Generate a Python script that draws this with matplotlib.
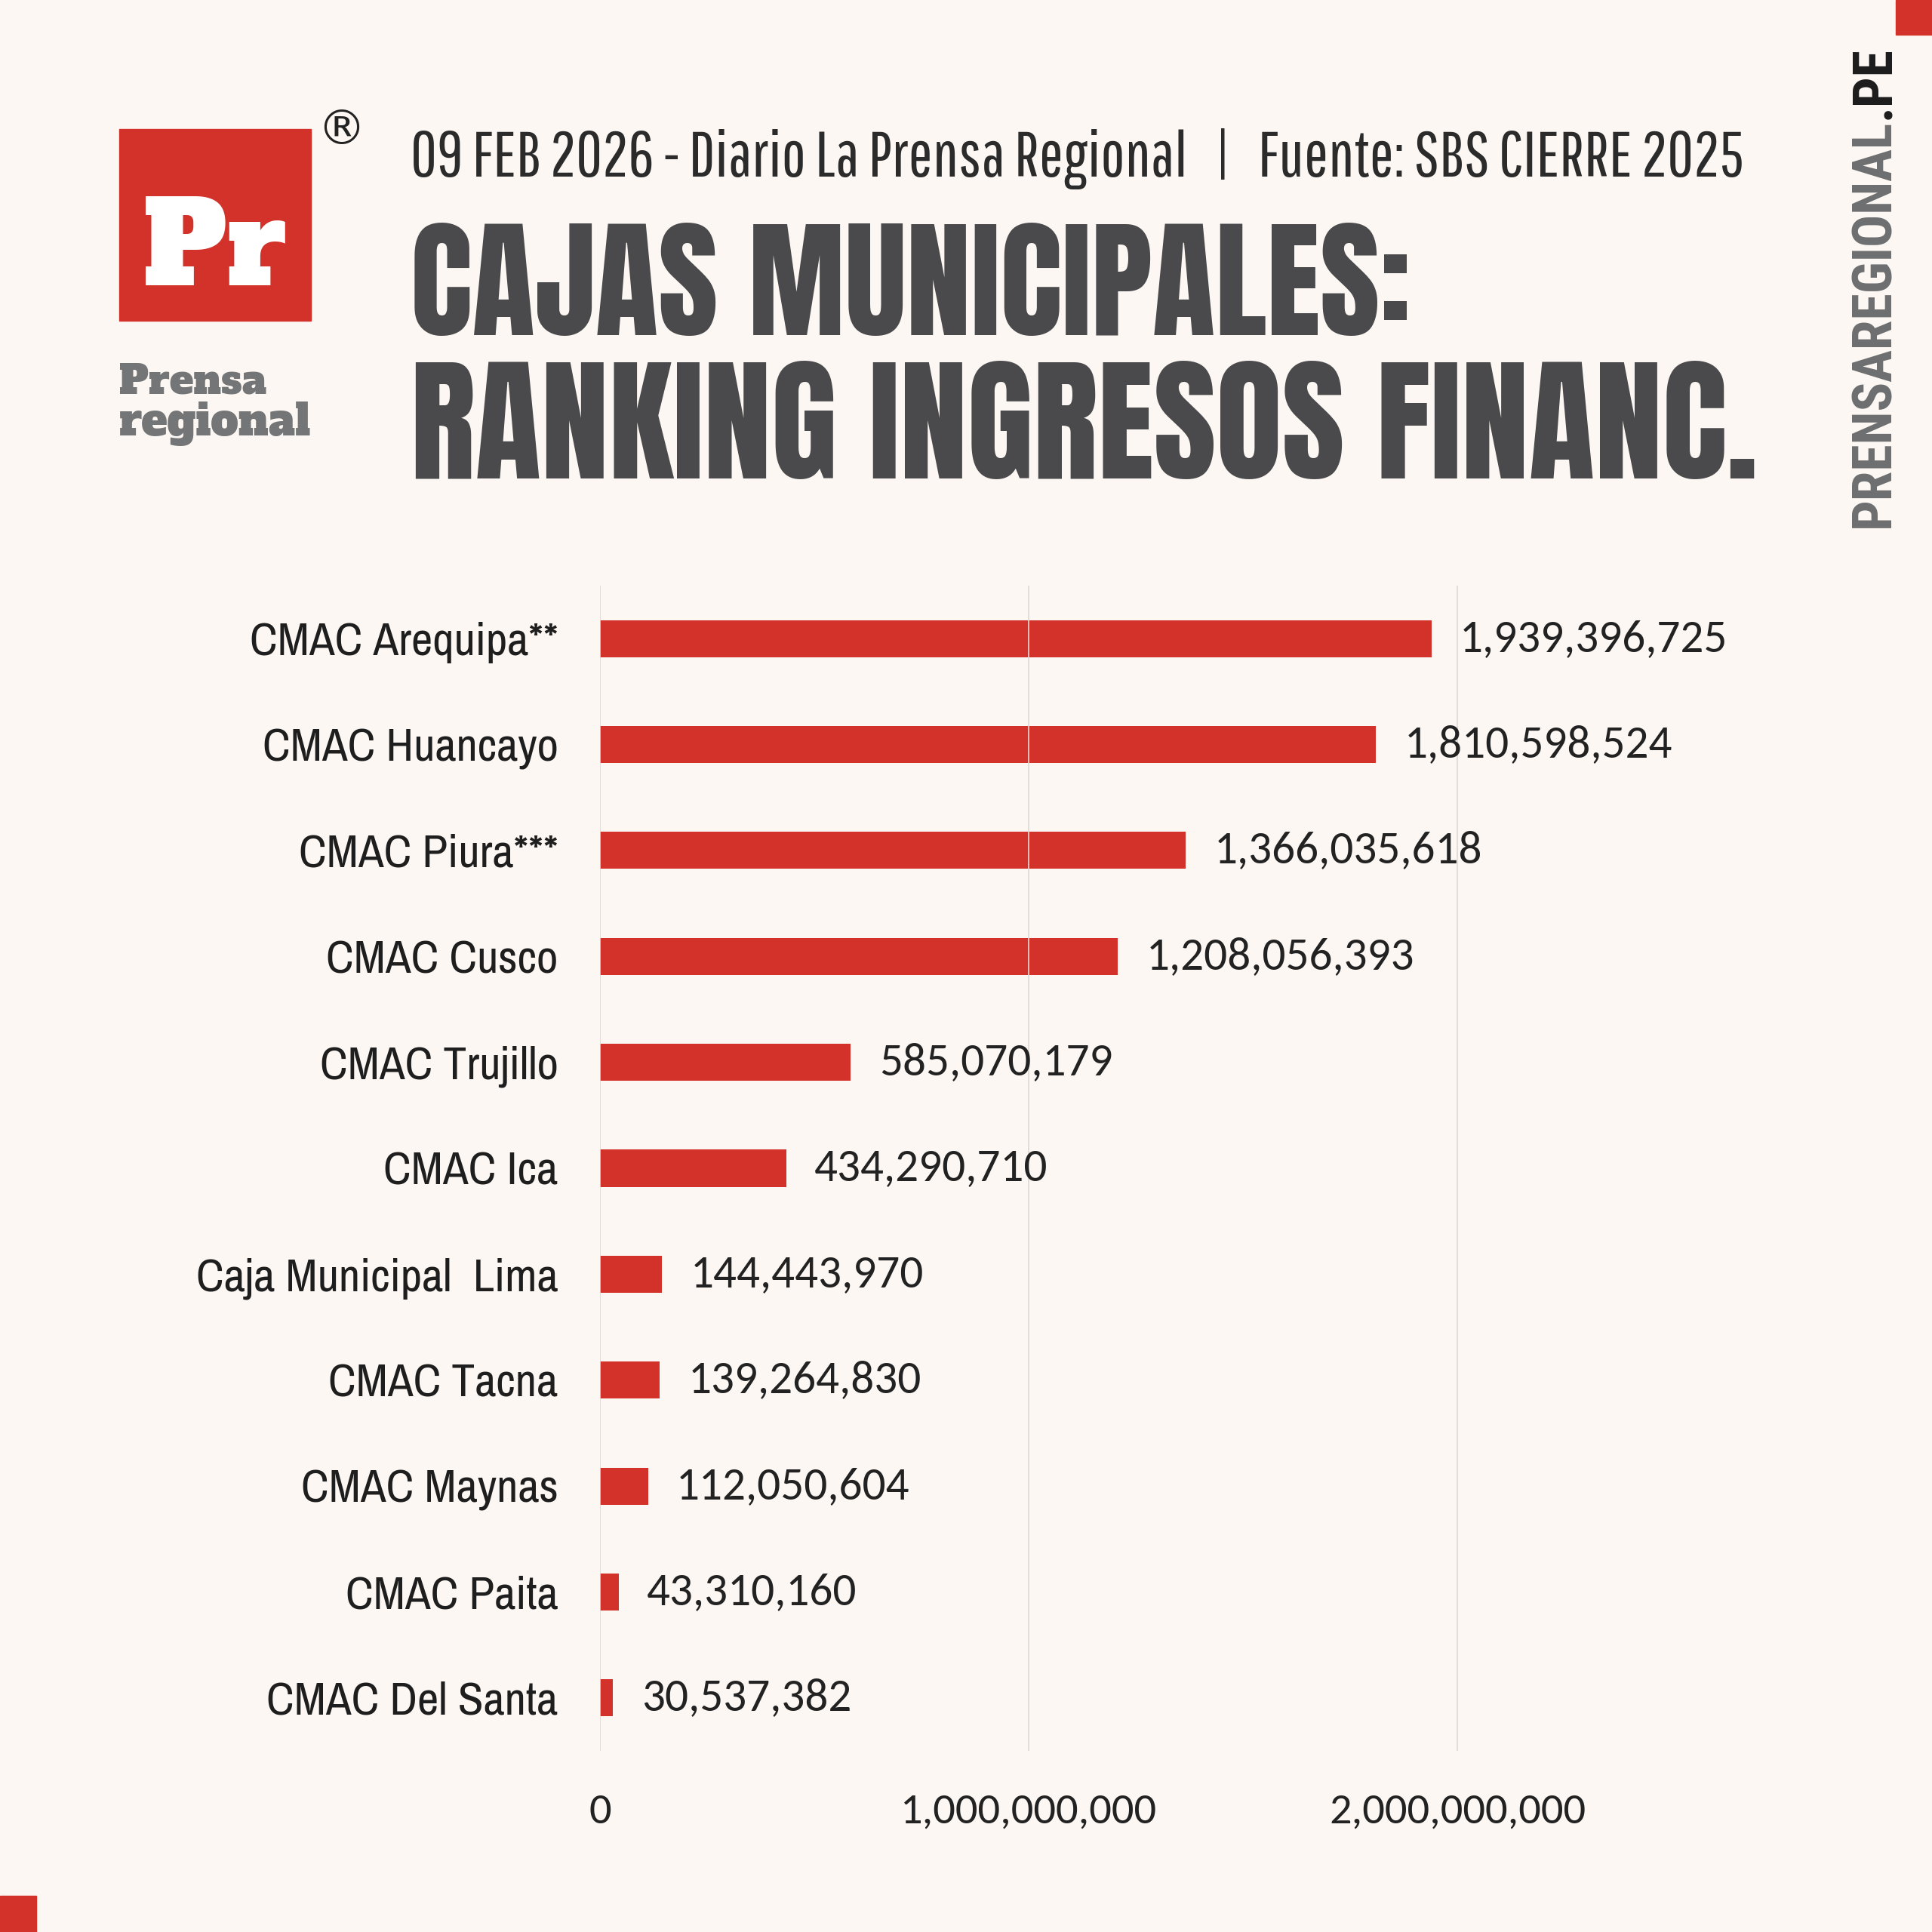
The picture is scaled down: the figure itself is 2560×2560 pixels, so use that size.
import matplotlib
matplotlib.use("Agg")
import matplotlib.pyplot as plt

# data (ingresos financieros, soles)
cajas = ["CMAC Arequipa**", "CMAC Huancayo", "CMAC Piura***", "CMAC Cusco", "CMAC Trujillo",
         "CMAC Ica", "Caja Municipal  Lima", "CMAC Tacna", "CMAC Maynas", "CMAC Paita",
         "CMAC Del Santa"]
ingresos = [1939396725, 1810598524, 1366035618, 1208056393, 585070179, 434290710,
            144443970, 139264830, 112050604, 43310160, 30537382]
xticks = [0, 1000000000, 2000000000]

header = "09 FEB 2026 - Diario La Prensa Regional   |   Fuente: SBS CIERRE 2025"
title1 = "CAJAS MUNICIPALES:"
title2 = "RANKING INGRESOS FINANC."

BG = "#fcf7f3"
RED = "#d3322a"
GREY = "#4a4a4c"
W = 2560

fig = plt.figure(figsize=(25.6, 25.6), dpi=100, facecolor=BG)
r = fig.canvas.get_renderer()


def fx(px):
    return px / W


def fy(px):
    return 1 - px / W


def fit(t, width_px):
    # scale font so the text spans the given width in pixels
    bb = t.get_window_extent(r)
    t.set_fontsize(t.get_fontsize() * width_px / bb.width)
    return t


# corner marks
fig.patches.append(plt.Rectangle((fx(2512), fy(46)), fx(48), 46 / W, transform=fig.transFigure,
                                 color=RED, zorder=1))
fig.patches.append(plt.Rectangle((0, 0), fx(48), 48 / W, transform=fig.transFigure,
                                 color=RED, zorder=1))

# logo
fig.patches.append(plt.Rectangle((fx(158), fy(425)), fx(254), 254 / W, transform=fig.transFigure,
                                 color=RED, zorder=1))
t = fig.text(fx(285), fy(378), "Pr", color="white", family="Alfa Slab One", fontsize=120,
             ha="center", va="baseline")
fit(t, 190)
t = fig.text(fx(158), fy(522), "Prensa", color="#747576", family="Alfa Slab One", fontsize=40,
             ha="left", va="baseline")
fit(t, 195)
t = fig.text(fx(158), fy(577), "regional", color="#747576", family="Alfa Slab One", fontsize=40,
             ha="left", va="baseline")
fit(t, 254)
fig.text(fx(452), fy(173), "®", color="#222222", family="DejaVu Sans", fontsize=46,
         ha="center", va="center")

# header and title
t = fig.text(fx(544), fy(234), header, color="#2b2b2b", family="Pathway Gothic One",
             fontsize=60, ha="left", va="baseline")
fit(t, 1768)
t = fig.text(fx(544), fy(444), title1, color=GREY, family="Anton", fontsize=100,
             ha="left", va="baseline")
fit(t, 1326)
t = fig.text(fx(544), fy(634), title2, color=GREY, family="Anton", fontsize=100,
             ha="left", va="baseline")
fit(t, 1783)

# vertical site name
v1 = fig.text(fx(2484), fy(699), "PRENSAREGIONAL", color="#6d6e70", family="Roboto Condensed",
              fontweight="bold", fontsize=40, rotation=90, ha="center", va="bottom")
v2 = fig.text(fx(2484), fy(400), ".PE", color="#1c1c1c", family="Roboto Condensed",
              fontweight="bold", fontsize=40, rotation=90, ha="center", va="bottom")
h = v1.get_window_extent(r).height + v2.get_window_extent(r).height
k = 637 / h
v1.set_fontsize(40 * k)
v2.set_fontsize(40 * k)
top1 = v1.get_window_extent(r).y1
v2.set_y(top1 / W)

# chart
ax = fig.add_axes([fx(795), fy(2320), fx(2215 - 795), (2320 - 776) / W])
ax.set_facecolor("none")
pos = list(range(len(cajas)))
ax.barh(pos, ingresos, height=0.35, color=RED, zorder=2)
ax.set_xlim(0, 2500000000)
ax.set_ylim(len(cajas) - 0.5, -0.5)
ax.set_yticks(pos)
ax.set_yticklabels(cajas, family="Archivo Narrow", fontsize=44.5, color="#1e1e1e")
ax.set_xticks(xticks)
ax.set_xticklabels([f"{v:,}" for v in xticks], family="Carlito", fontsize=42, color="#222222")
ax.tick_params(axis="both", length=0)
ax.tick_params(axis="y", pad=40)
ax.tick_params(axis="x", pad=40)
ax.grid(axis="x", color="#ddd8d3", linewidth=1.2, zorder=3)
ax.set_axisbelow(False)
for s in ax.spines.values():
    s.set_visible(False)

for i, v in enumerate(ingresos):
    ax.annotate(f"{v:,}", xy=(v, i), xytext=(27, 0), textcoords="offset points",
                va="center", ha="left", family="Carlito", fontsize=44, color="#222222")

fig.savefig("out.png", facecolor=BG)
